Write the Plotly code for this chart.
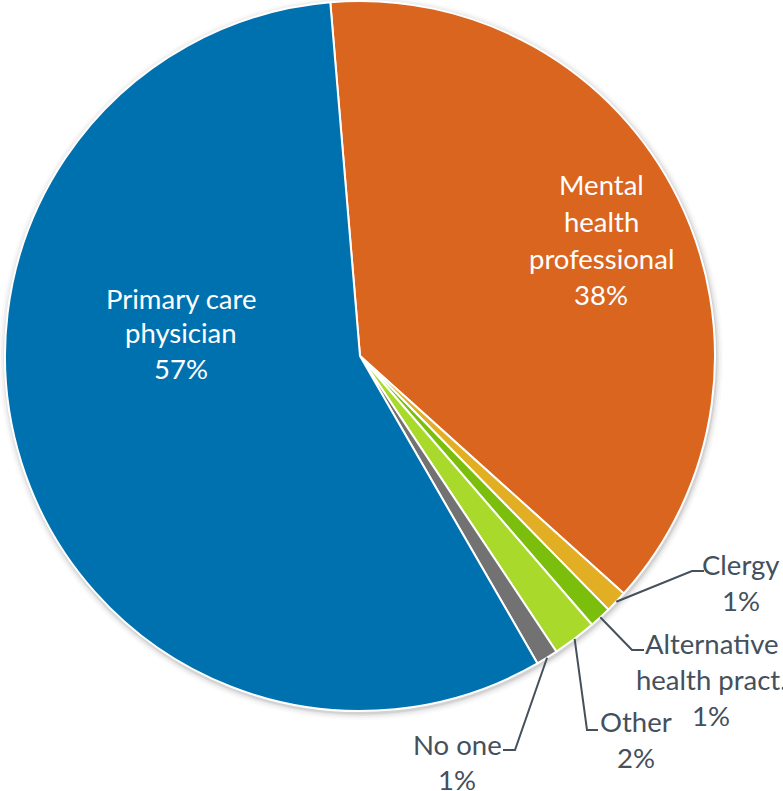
import math
import plotly.graph_objects as go

# Who respondents turn to first (share of responses, %)
categories = ["Mental health professional", "Clergy", "Alternative health pract.",
              "Other", "No one", "Primary care physician"]
values = [38, 1, 1, 2, 1, 57]
colors = ["#D9651F", "#E2AE23", "#7CBE0C", "#A9DA2B", "#727272", "#0071AF"]

# Multi-line label text for each slice (percent line is appended from values)
label_lines = [
    ["Mental", "health", "professional"],
    ["Clergy"],
    ["Alternative", "health pract."],
    ["Other"],
    ["No one"],
    ["Primary care", "physician"],
]

W, H = 783, 791
CX, CY, R = 360, 356, 355          # pie centre / radius in pixels
ROTATION = -4.8                    # degrees clockwise from 12 o'clock
FONT = "Lato"
FONT_SIZE = 27.5
DARK = "#44505C"

# label placement: (centre x, first-line y, line spacing, inside?)
label_pos = [
    (601, 185, 36.5, True),
    (741, 564, 36, False),
    (711, 643, 36, False),
    (636, 721, 36, False),
    (457, 744, 35, False),
    (181, 298, 35, True),
]
# leader line bend / end points (pixels) for outside labels
leader = {
    1: [(692, 571), (704, 571)],
    2: [(632, 650), (644, 650)],
    3: [(587, 730), (598, 730)],
    4: [(515, 750), (503, 750)],
}


def px(x):
    return x / W


def py(y):
    return 1 - y / H


fig = go.Figure(go.Pie(
    labels=categories,
    values=values,
    sort=False,
    direction="clockwise",
    rotation=ROTATION,
    marker=dict(colors=colors, line=dict(color="white", width=2)),
    textinfo="none",
    hoverinfo="label+percent",
    showlegend=False,
    domain=dict(x=[px(CX - R), px(CX + R)], y=[py(CY + R), py(CY - R)]),
))

# soft drop shadow behind the pie
shapes = []
for grow, alpha in [(7, 0.03), (5, 0.05), (3, 0.08), (1.5, 0.12)]:
    shapes.append(dict(
        type="circle", xref="paper", yref="paper", layer="below",
        x0=px(CX - R - grow + 1), x1=px(CX + R + grow + 1),
        y0=py(CY + R + grow + 2), y1=py(CY - R - grow + 2),
        line=dict(width=0), fillcolor=f"rgba(80,80,80,{alpha})",
    ))

# slice mid-angles from the data
total = sum(values)
mid_angles = []
acc = ROTATION
for v in values:
    span = v / total * 360
    mid_angles.append(acc + span / 2)
    acc += span

annotations = []
for i, (lines, v) in enumerate(zip(label_lines, values)):
    x, y0, dy, inside = label_pos[i]
    txt_lines = lines + [f"{v}%"]
    for k, t in enumerate(txt_lines):
        annotations.append(dict(
            x=px(x), y=py(y0 + k * dy), xref="paper", yref="paper",
            text=t, showarrow=False, xanchor="center", yanchor="middle",
            font=dict(family=FONT, size=FONT_SIZE,
                      color="white" if inside else DARK),
        ))

for i, pts in leader.items():
    a = math.radians(mid_angles[i])
    sx = CX + R * math.sin(a)
    sy = CY - R * math.cos(a)
    path_pts = [(sx, sy)] + pts
    path = "M " + " L ".join(f"{px(x)},{py(y)}" for x, y in path_pts)
    shapes.append(dict(type="path", xref="paper", yref="paper", path=path,
                       line=dict(color=DARK, width=2), layer="above"))

fig.update_layout(
    width=W, height=H,
    margin=dict(l=0, r=0, t=0, b=0),
    paper_bgcolor="white", plot_bgcolor="white",
    shapes=shapes, annotations=annotations,
)

fig.write_html("out.html")
